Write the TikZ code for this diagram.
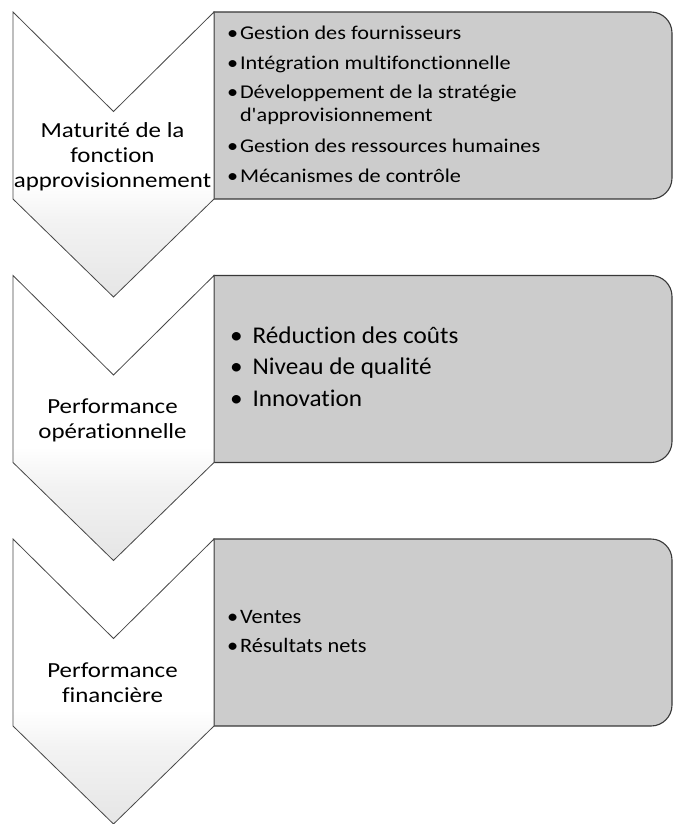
\documentclass[tikz,border=0pt]{standalone}
\usepackage{fontspec}
\setmainfont{Carlito}[Ligatures=CommonOff]
\newfontfamily\labelfont{Carlito}[FakeStretch=1.16,Ligatures=CommonOff]
\newfontfamily\listafont{Carlito}[FakeStretch=1.14,Ligatures=CommonOff]
\newfontfamily\listbfont{Carlito}[FakeStretch=1.05,Ligatures=CommonOff]
\newfontfamily\listcfont{Carlito}[FakeStretch=1.09,Ligatures=CommonOff]
\usepackage{array}

% fill colours
\definecolor{boxfill}{gray}{0.80}
\definecolor{boxline}{gray}{0.22}
\definecolor{chevline}{gray}{0.28}
\definecolor{chevlow}{gray}{0.90}
\definecolor{chevmid}{gray}{0.95}

% chevron fill: white above, fading to light grey towards the tip
\pgfdeclareverticalshading{chevfill}{100bp}{%
  color(0bp)=(chevlow); color(25bp)=(chevlow); color(38bp)=(chevmid);
  color(45bp)=(white); color(100bp)=(white)}

\tikzset{
  chevron/.style={draw=chevline, line width=0.8pt, shading=chevfill},
  listbox/.style={draw=boxline, line width=1.1pt, fill=boxfill},
  plain/.style={inner sep=0pt, outer sep=0pt, anchor=base},
}

% chevron with top edge at y=#1, left x=13, right x=214
\newcommand{\chevronat}[1]{%
  \path[chevron] (13,#1) -- (113.5,#1+99.5) -- (214,#1) -- (214,#1+187)
    -- (113.5,#1+285) -- (13,#1+187) -- cycle;}
% list box with top edge at y=#1, right corners rounded
\newcommand{\listboxat}[1]{%
  \path[listbox] (214,#1) -- (651,#1) arc[start angle=-90,end angle=0,radius=21]
    -- (672,#1+166) arc[start angle=0,end angle=90,radius=21] -- (214,#1+187) -- cycle;}

\begin{document}
\begin{tikzpicture}[x=1pt,y=-1pt]
\useasboundingbox (0,0) rectangle (673,824);

% stage 1
\listboxat{12}
\chevronat{12}
% stage 2
\listboxat{275.5}
\chevronat{275.5}
% stage 3
\listboxat{539}
\chevronat{539}

% chevron labels
\node[plain] (stage1) at (112.5,137) {\labelfont\fontsize{21.5}{25.5}\selectfont
  \begin{tabular}[t]{@{}c@{}}Maturité de la\\fonction\\approvisionnement\end{tabular}};
\node[plain] (stage2) at (112.5,413) {\labelfont\fontsize{21.5}{25.5}\selectfont
  \begin{tabular}[t]{@{}c@{}}Performance\\opérationnelle\end{tabular}};
\node[plain] (stage3) at (112.5,677) {\labelfont\fontsize{21.5}{25.5}\selectfont
  \begin{tabular}[t]{@{}c@{}}Performance\\financière\end{tabular}};

% bullet lists
\node[plain, anchor=base west] (list1) at (227,40) {\listafont\fontsize{19.5}{23}\selectfont
  \begin{tabular}[t]{@{}l@{\hspace{2pt}}l@{}}
  \textbullet & Gestion des fournisseurs\\[7pt]
  \textbullet & Intégration multifonctionnelle\\[6pt]
  \textbullet & Développement de la stratégie\\
              & d'approvisionnement\\[8pt]
  \textbullet & Gestion des ressources humaines\\[7pt]
  \textbullet & Mécanismes de contrôle
  \end{tabular}};
\node[plain, anchor=base west] (list2) at (230,343) {\listbfont\fontsize{24}{31.5}\selectfont
  \begin{tabular}[t]{@{}l@{\hspace{10pt}}l@{}}
  \textbullet & Réduction des coûts\\
  \textbullet & Niveau de qualité\\
  \textbullet & Innovation
  \end{tabular}};
\node[plain, anchor=base west] (list3) at (227,623) {\listcfont\fontsize{20.5}{29}\selectfont
  \begin{tabular}[t]{@{}l@{\hspace{2pt}}l@{}}
  \textbullet & Ventes\\
  \textbullet & Résultats nets
  \end{tabular}};
\end{tikzpicture}
\end{document}
